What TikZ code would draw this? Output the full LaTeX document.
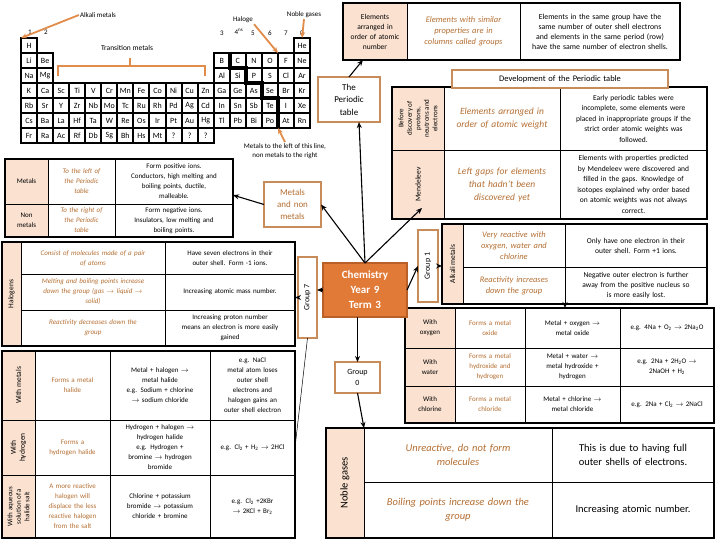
\documentclass[tikz,border=0pt]{standalone}
\usepackage{fontspec}
\setmainfont{Carlito}
\usetikzlibrary{arrows.meta,positioning,calc}

\definecolor{peach}{RGB}{250,225,208}
\definecolor{tbrown}{RGB}{180,110,50}
\definecolor{oborder}{RGB}{200,140,90}
\definecolor{chemfill}{RGB}{226,122,55}
\definecolor{chemedge}{RGB}{185,95,40}
\definecolor{oarrow}{RGB}{225,140,75}

\newcommand{\fsz}[2]{\fontsize{#1}{#2}\selectfont}
% cell from corner (x1,y1) to corner (x2,y2)
\newcommand{\cellat}[7]{%
  \pgfmathsetmacro{\cw}{#4-#2}%
  \pgfmathsetmacro{\ch}{#5-#3}%
  \pgfmathsetmacro{\tw}{max(#4-#2-5,1)}%
  \node[cell,minimum width=\cw pt,minimum height=\ch pt,text width=\tw pt,#6] (#1) at ({(#2+#4)/2},{(#3+#5)/2}) {#7};}

\begin{document}
\begin{tikzpicture}[x=1pt,y=-1pt]
	\tikzstyle{cell}=[draw, line width=0.9pt, align=center, inner sep=1pt, outer sep=0pt, font=\fsz{7}{10}]
	\tikzstyle{hdr}=[fill=peach]
	\tikzstyle{note}=[text=tbrown, font=\fsz{7}{10}\itshape]
	\tikzstyle{obox}=[draw=oborder, line width=1.6pt, fill=white]
	\tikzstyle{elem}=[draw, line width=2pt, fill=white, minimum width=16.06pt, minimum height=15pt, inner sep=0pt, outer sep=0pt, font=\fsz{8}{9}]
	\tikzstyle{lbl}=[inner sep=1pt, font=\fsz{7}{10}]
	\tikzstyle{vlbl}=[rotate=90, align=center, inner sep=0pt, font=\fsz{7.5}{9}]
	\tikzstyle{frame}=[line width=1.8pt]
	\tikzstyle{arr}=[-{Stealth[length=6pt,width=5pt]}, line width=1.1pt]
	\tikzstyle{oarr}=[-{Stealth[length=6pt,width=5pt]}, draw=oarrow, line width=1.8pt]
	\tikzstyle{oline}=[draw=oarrow, line width=1.8pt]

	\useasboundingbox (0,0) rectangle (720,540);

	% periodic table
	\foreach \c/\e in {1/H,18/He}
		\node[elem] (pt-1-\c) at ({21+16.06*(\c-0.5)},45.5) {\e};
	\foreach \c/\e in {1/Li,2/Be,13/B,14/C,15/N,16/O,17/F,18/Ne}
		\node[elem] (pt-2-\c) at ({21+16.06*(\c-0.5)},60.5) {\e};
	\foreach \c/\e in {1/Na,2/Mg,13/Al,14/Si,15/P,16/S,17/Cl,18/Ar}
		\node[elem] (pt-3-\c) at ({21+16.06*(\c-0.5)},75.5) {\e};
	\foreach \e [count=\c] in {K,Ca,Sc,Ti,V,Cr,Mn,Fe,Co,Ni,Cu,Zn,Ga,Ge,As,Se,Br,Kr}
		\node[elem] (pt-4-\c) at ({21+16.06*(\c-0.5)},90.5) {\e};
	\foreach \e [count=\c] in {Rb,Sr,Y,Zr,Nb,Mo,Tc,Ru,Rh,Pd,Ag,Cd,In,Sn,Sb,Te,I,Xe}
		\node[elem] (pt-5-\c) at ({21+16.06*(\c-0.5)},105.5) {\e};
	\foreach \e [count=\c] in {Cs,Ba,La,Hf,Ta,W,Re,Os,Ir,Pt,Au,Hg,Tl,Pb,Bi,Po,At,Rn}
		\node[elem] (pt-6-\c) at ({21+16.06*(\c-0.5)},120.5) {\e};
	\foreach \e [count=\c] in {Fr,Ra,Ac,Rf,Db,Sg,Bh,Hs,Mt,?,?,?}
		\node[elem] (pt-7-\c) at ({21+16.06*(\c-0.5)},135.5) {\e};
	\draw[line width=3.5pt] (pt-2-14.north west) -- (pt-2-14.south west) -- (pt-3-15.north west) -- (pt-3-15.south west)
		-- (pt-4-16.north west) -- (pt-4-16.south west) -- (pt-5-17.north west) -- (pt-6-17.south west);

	\node[lbl] (alklbl) at (98,15) {Alkali metals};
	\node[lbl] (grp1) at (30,32) {1};
	\node[lbl] (grp2) at (46,32) {2};
	\node[lbl,font=\fsz{7.5}{10}] (trlbl) at (127,48) {Transition metals};
	\node[lbl] (hallbl) at (243,20) {Haloge};
	\node[lbl] (grp3) at (222,33) {3};
	\node[lbl] (grp4) at (239,32) {4\textsuperscript{ns}};
	\node[lbl] (grp5) at (253,33) {5};
	\node[lbl] (grp6) at (270,33) {6};
	\node[lbl] (grp7) at (286,33) {7};
	\node[lbl] (grp0) at (302,33) {0};
	\node[lbl] (nglbl) at (304,15) {Noble gases};
	\node[lbl,align=center,font=\fsz{7}{9.5}] (mllbl) at (285,151) {Metals to the left of this line,\\non metals to the right};

	\draw[oarr] (alklbl.west) -- (pt-1-1.north west);
	\draw[oarr] (hallbl.south east) -- (pt-2-17.north west);
	\draw[oarr] (nglbl.south) -- (pt-1-18.north);
	\draw[oarr] (mllbl.north) -- (pt-6-17.south west);
	\draw[oline] (58,76) -- (58,66) -- (205,66) -- (205,76) (130,66) -- (130,58);

	% top boxes
	\cellat{topa}{343}{3}{407}{60}{hdr,font=\fsz{7.5}{10}}{Elements\\arranged in\\order of atomic\\number}
	\cellat{topb}{407}{3}{520}{60}{note,font=\fsz{8.5}{11}\itshape}{Elements with similar\\properties are in\\columns called groups}
	\cellat{topc}{520}{3}{680}{60}{font=\fsz{7.8}{10}}{Elements in the same group have the\\same number of outer shell electrons\\and elements in the same period (row)\\have the same number of electron shells.}
	\draw[frame] (topa.north west) rectangle (topc.south east);

	\cellat{ptbox}{318}{77}{380}{122}{obox,font=\fsz{9}{12.5}}{The\\Periodic\\table}

	% development of the periodic table
	\cellat{dev-h1}{392}{87}{444}{150}{hdr}{}
	\cellat{dev-a1}{444}{87}{560}{150}{note,font=\fsz{9.5}{13}\itshape}{Elements arranged in\\order of atomic weight}
	\cellat{dev-b1}{560}{87}{707}{150}{font=\fsz{7.5}{10.5}}{Early periodic tables were\\incomplete, some elements were\\placed in inappropriate groups if the\\strict order atomic weights was\\followed.}
	\cellat{dev-h2}{392}{150}{444}{219}{hdr}{}
	\cellat{dev-a2}{444}{150}{560}{219}{note,font=\fsz{9.5}{13}\itshape}{Left gaps for elements\\that hadn't been\\discovered yet}
	\cellat{dev-b2}{560}{150}{707}{219}{font=\fsz{7.5}{10.5}}{Elements with properties predicted\\by Mendeleev were discovered and\\filled in the gaps. Knowledge of\\isotopes explained why order based\\on atomic weights was not always\\correct.}
	\node[vlbl,font=\fsz{7}{8.5}] at (dev-h1) {Before\\discovery of\\protons,\\neutrons and\\electrons};
	\node[vlbl] at (dev-h2) {Mendeleev};
	\draw[frame] (dev-h1.north west) rectangle (dev-b2.south east);
	\cellat{devtitle}{452}{70}{668}{88}{obox,font=\fsz{8.5}{10}}{Development of the Periodic table}

	% metals and non metals
	\cellat{mt-h1}{5}{159}{48}{204}{hdr}{Metals}
	\cellat{mt-a1}{48}{159}{115}{204}{note}{To the left of\\the Periodic\\table}
	\cellat{mt-b1}{115}{159}{233}{204}{}{Form positive ions.\\Conductors, high melting and\\boiling points, ductile,\\malleable.}
	\cellat{mt-h2}{5}{204}{48}{237}{hdr}{Non\\metals}
	\cellat{mt-a2}{48}{204}{115}{237}{note}{To the right of\\the Periodic\\table}
	\cellat{mt-b2}{115}{204}{233}{237}{}{Form negative ions.\\Insulators, low melting and\\boiling points.}
	\draw[frame] (mt-h1.north west) rectangle (mt-b2.south east);
	\cellat{mnm}{264}{182}{321}{227}{obox,text=tbrown,font=\fsz{9}{12}}{Metals\\and non\\metals}

	% halogens
	\cellat{hal-h}{2}{242}{21}{346}{hdr}{}
	\node[vlbl] at (hal-h) {Halogens};
	\cellat{hal-a1}{21}{242}{165}{274}{note}{Consist of molecules made of a pair\\of atoms}
	\cellat{hal-b1}{165}{242}{295}{274}{}{Have seven electrons in their\\outer shell. Form -1 ions.}
	\cellat{hal-a2}{21}{274}{165}{310}{note}{Melting and boiling points increase\\down the group (gas $\rightarrow$ liquid $\rightarrow$\\solid)}
	\cellat{hal-b2}{165}{274}{295}{310}{}{Increasing atomic mass number.}
	\cellat{hal-a3}{21}{310}{165}{346}{note}{Reactivity decreases down the\\group}
	\cellat{hal-b3}{165}{310}{295}{346}{}{Increasing proton number\\means an electron is more easily\\gained}
	\draw[frame] (hal-h.north west) rectangle (hal-b3.south east);

	\cellat{halr-h1}{2}{351}{35}{420}{hdr}{}
	\cellat{halr-a1}{35}{351}{110}{420}{text=tbrown}{Forms a metal\\halide}
	\cellat{halr-b1}{110}{351}{210}{420}{}{Metal + halogen $\rightarrow$\\metal halide\\e.g. Sodium + chlorine\\$\rightarrow$ sodium chloride}
	\cellat{halr-c1}{210}{351}{295}{420}{}{e.g. NaCl\\metal atom loses\\outer shell\\electrons and\\halogen gains an\\outer shell electron}
	\cellat{halr-h2}{2}{420}{35}{475}{hdr}{}
	\cellat{halr-a2}{35}{420}{110}{475}{text=tbrown}{Forms a\\hydrogen halide}
	\cellat{halr-b2}{110}{420}{210}{475}{}{Hydrogen + halogen $\rightarrow$\\hydrogen halide\\e.g. Hydrogen +\\bromine $\rightarrow$ hydrogen\\bromide}
	\cellat{halr-c2}{210}{420}{295}{475}{}{e.g. Cl\textsubscript{2} + H\textsubscript{2} $\rightarrow$ 2HCl}
	\cellat{halr-h3}{2}{475}{35}{538}{hdr}{}
	\cellat{halr-a3}{35}{475}{110}{538}{text=tbrown}{A more reactive\\halogen will\\displace the less\\reactive halogen\\from the salt}
	\cellat{halr-b3}{110}{475}{210}{538}{}{Chlorine + potassium\\bromide $\rightarrow$ potassium\\chloride + bromine}
	\cellat{halr-c3}{210}{475}{295}{538}{}{e.g. Cl\textsubscript{2} +2KBr\\$\rightarrow$ 2KCl + Br\textsubscript{2}}
	\node[vlbl] at (halr-h1) {With metals};
	\node[vlbl] at (halr-h2) {With\\hydrogen};
	\node[vlbl,font=\fsz{7}{8.5}] at (halr-h3) {With aqueous\\solution of a\\halide salt};
	\draw[frame] (halr-h1.north west) rectangle (halr-c3.south east);

	% alkali metals
	\cellat{alk-h}{442}{224}{463}{304}{hdr}{}
	\node[vlbl] at (alk-h) {Alkali metals};
	\cellat{alk-a1}{463}{224}{565}{267}{note,font=\fsz{8.5}{11}\itshape}{Very reactive with\\oxygen, water and\\chlorine}
	\cellat{alk-b1}{565}{224}{707}{267}{font=\fsz{7.5}{10}}{Only have one electron in their\\outer shell. Form +1 ions.}
	\cellat{alk-a2}{463}{267}{565}{304}{note,font=\fsz{8.5}{11}\itshape}{Reactivity increases\\down the group}
	\cellat{alk-b2}{565}{267}{707}{304}{font=\fsz{7.5}{10}}{Negative outer electron is further\\away from the positive nucleus so\\is more easily lost.}
	\draw[frame] (alk-h.north west) rectangle (alk-b2.south east);

	\cellat{alkr-h1}{405}{308}{455}{348}{hdr}{With\\oxygen}
	\cellat{alkr-a1}{455}{308}{525}{348}{text=tbrown}{Forms a metal\\oxide}
	\cellat{alkr-b1}{525}{308}{620}{348}{}{Metal + oxygen $\rightarrow$\\metal oxide}
	\cellat{alkr-c1}{620}{308}{714}{348}{}{e.g. 4Na + O\textsubscript{2} $\rightarrow$ 2Na\textsubscript{2}O}
	\cellat{alkr-h2}{405}{348}{455}{386}{hdr}{With\\water}
	\cellat{alkr-a2}{455}{348}{525}{386}{text=tbrown}{Forms a metal\\hydroxide and\\hydrogen}
	\cellat{alkr-b2}{525}{348}{620}{386}{}{Metal + water $\rightarrow$\\metal hydroxide +\\hydrogen}
	\cellat{alkr-c2}{620}{348}{714}{386}{}{e.g. 2Na + 2H\textsubscript{2}O $\rightarrow$\\2NaOH + H\textsubscript{2}}
	\cellat{alkr-h3}{405}{386}{455}{423}{hdr}{With\\chlorine}
	\cellat{alkr-a3}{455}{386}{525}{423}{text=tbrown}{Forms a metal\\chloride}
	\cellat{alkr-b3}{525}{386}{620}{423}{}{Metal + chlorine $\rightarrow$\\metal chloride}
	\cellat{alkr-c3}{620}{386}{714}{423}{}{e.g. 2Na + Cl\textsubscript{2} $\rightarrow$ 2NaCl}
	\draw[frame] (alkr-h1.north west) rectangle (alkr-c3.south east);

	% noble gases
	\cellat{ng-h}{326}{428}{364}{538}{hdr}{}
	\node[vlbl,font=\fsz{10.5}{12}] at (ng-h) {Noble gases};
	\cellat{ng-a1}{364}{428}{552}{482}{note,font=\fsz{10.5}{14}\itshape}{Unreactive, do not form\\molecules}
	\cellat{ng-b1}{552}{428}{714}{482}{font=\fsz{10.5}{14}}{This is due to having full\\outer shells of electrons.}
	\cellat{ng-a2}{364}{482}{552}{538}{note,font=\fsz{10.5}{14}\itshape}{Boiling points increase down the\\group}
	\cellat{ng-b2}{552}{482}{714}{538}{font=\fsz{10.5}{14}}{Increasing atomic number.}
	\draw[frame] (ng-h.north west) rectangle (ng-b2.south east);

	% group boxes and centre
	\cellat{g7}{298}{257}{317}{338}{obox}{}
	\node[vlbl,font=\fsz{8}{9}] at (g7) {Group 7};
	\cellat{g1}{418}{230}{438}{302}{obox}{}
	\node[vlbl,font=\fsz{8}{9}] at (g1) {Group 1};
	\cellat{g0}{335}{362}{380}{393}{obox,font=\fsz{8}{11}}{Group\\0};
	\cellat{chem}{323}{263}{407}{317}{fill=chemfill,draw=chemedge,line width=1.2pt,text=white,font=\fsz{11}{15}\bfseries}{Chemistry\\Year 9\\Term 3}

	\draw[arr] (chem.north) -- (mnm.east);
	\draw[arr] (chem.north) -- (ptbox.294);
	\draw[arr] (chem.north) -- ($(dev-h2.south)+(4,-11)$);
	\draw[arr] (ptbox.north) -- (topa.247);
	\draw[arr] (mnm.west) -- (mt-b1.-13);
	\draw[arr] (chem.west) -- (chem.west -| g7.east);
	\draw[arr] (g7.west) -- (g7.west -| hal-b2.east);
	\draw[line width=0.5pt] (g7.south) -- (halr-c2.east);
	\draw[arr] (chem.east) -- (g1.west);
	\draw[arr] (g1.east) -- (g1.east -| alk-h.west);
	\draw[arr] (alk-a2.south east) -- (alk-a2.south east |- alkr-b1.north);
	\draw[arr] (chem.south -| g0.north) -- (g0.north);
	\draw[arr] (g0.south) -- (ng-h.north east);
\end{tikzpicture}
\end{document}
